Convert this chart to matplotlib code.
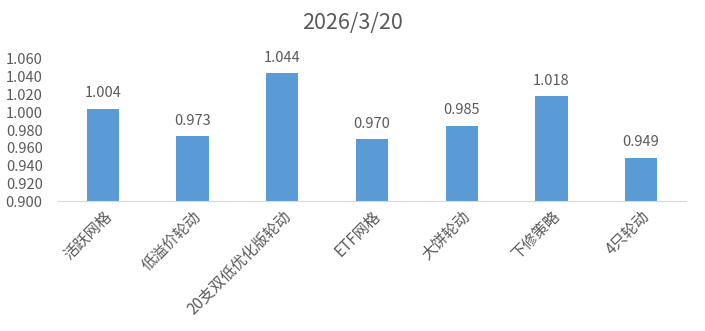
import matplotlib
matplotlib.use("Agg")
import matplotlib.pyplot as plt

plt.rcParams["font.family"] = ["Noto Sans CJK SC", "DejaVu Sans"]

categories = ["活跃网格", "低溢价轮动", "20支双低优化版轮动", "ETF网格", "大饼轮动", "下修策略", "4只轮动"]
values = [1.004, 0.973, 1.044, 0.970, 0.985, 1.018, 0.949]
yticks = [0.900, 0.920, 0.940, 0.960, 0.980, 1.000, 1.020, 1.040, 1.060]
title = "2026/3/20"

text_color = "#595959"

fig = plt.figure(figsize=(7.05, 3.31), dpi=100)
ax = fig.add_axes([0.0823, 0.3927, 0.973 - 0.0823, 0.8218 - 0.3927])

x = list(range(len(categories)))
bars = ax.bar(x, values, width=0.36, color="#5B9BD5", bottom=0)
ax.set_ylim(yticks[0], yticks[-1])
ax.set_xlim(-0.5, len(categories) - 0.5)

for xi, v in zip(x, values):
    ax.annotate(f"{v:.3f}", (xi, v), xytext=(0, 6), textcoords="offset points",
                ha="center", va="bottom", fontsize=10.5, color=text_color)

ax.set_yticks(yticks)
ax.set_yticklabels([f"{t:.3f}" for t in yticks], fontsize=10.5, color=text_color)
ax.set_xticks(x)
ax.set_xticklabels(categories, rotation=45, ha="right", rotation_mode="anchor",
                   fontsize=11, color=text_color)
ax.tick_params(axis="both", length=0)
ax.tick_params(axis="y", pad=11)
ax.tick_params(axis="x", pad=5)

for s in ["top", "right", "left"]:
    ax.spines[s].set_visible(False)
ax.spines["bottom"].set_color("#D9D9D9")

fig.text(0.5, 0.93, title, ha="center", va="center", fontsize=15.5, color=text_color)

fig.savefig("out.png", dpi=100)
